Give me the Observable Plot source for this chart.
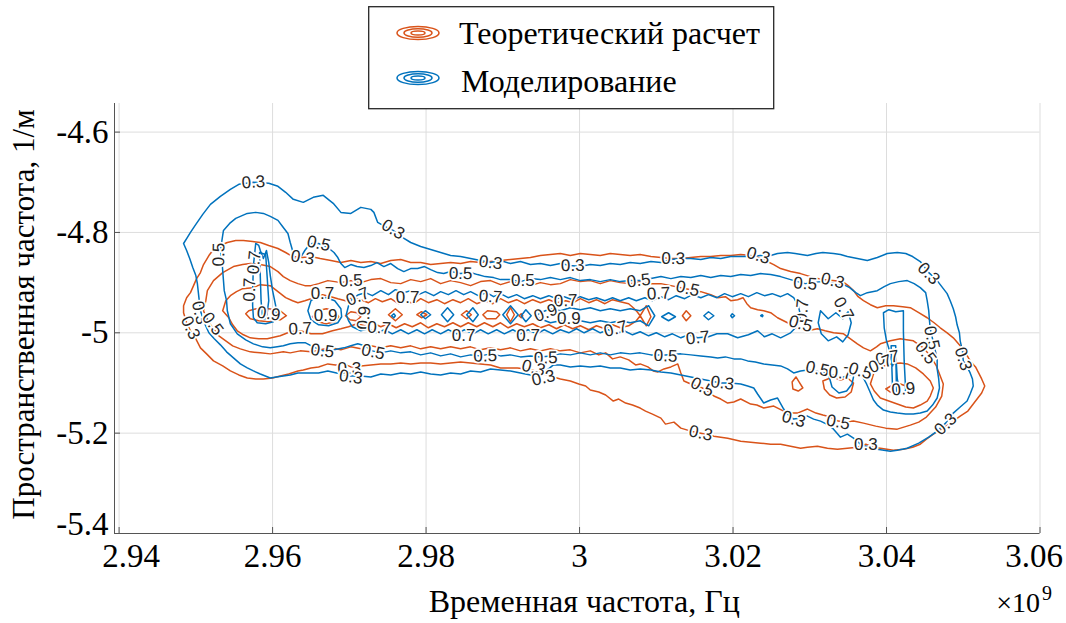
<!DOCTYPE html>
<html>
<head>
<meta charset="utf-8">
<script src="https://cdn.jsdelivr.net/npm/d3@7"></script>
<script src="https://cdn.jsdelivr.net/npm/@observablehq/plot@0.6"></script>
<style>
  html, body { margin: 0; padding: 0; background: #fff; }
  #wrap { position: relative; width: 1066px; height: 623px; overflow: hidden; }
  #legend { position: absolute; left: 368px; top: 6px; }
</style>
</head>
<body>
<div id="wrap">
  <div id="chart"></div>
  <svg id="legend" width="407" height="104" font-family="'Liberation Serif','Times New Roman',serif">
    <rect x="0.7" y="0.7" width="405" height="102" fill="#fff" stroke="#262626" stroke-width="1.3"></rect>
    <g fill="none" stroke="#D95319" stroke-width="1.5">
      <ellipse cx="50" cy="27" rx="21" ry="6.5"></ellipse>
      <ellipse cx="50" cy="27" rx="14" ry="4.2"></ellipse>
      <ellipse cx="50" cy="27" rx="7" ry="2"></ellipse>
    </g>
    <g fill="none" stroke="#0072BD" stroke-width="1.5">
      <ellipse cx="50" cy="72" rx="21" ry="6.5"></ellipse>
      <ellipse cx="50" cy="72" rx="14" ry="4.2"></ellipse>
      <ellipse cx="50" cy="72" rx="7" ry="2"></ellipse>
    </g>
    <text x="91" y="38" font-size="32" fill="#000">Теоретический расчет</text>
    <text x="93" y="86" font-size="32" fill="#000">Моделирование</text>
  </svg>
</div>
<script>
// Axes: temporal frequency (×10^9 Hz) and spatial frequency (1/m)
const xTicks = [2.94, 2.96, 2.98, 3.00, 3.02, 3.04, 3.06];
const yTicks = [-5.4, -5.2, -5.0, -4.8, -4.6];
const xDomain = [2.9394, 3.06];
const yDomain = [-5.4, -4.543];

// Theoretical calculation: contour at level 0.3 (closed)
const theory03 = [[2.9484,-4.960],[2.9484,-4.946],[2.9488,-4.930],[2.9493,-4.920],[2.9497,-4.906],[2.9501,-4.892],[2.9506,-4.880],[2.9510,-4.864],[2.9517,-4.846],[2.9523,-4.834],[2.9532,-4.826],[2.9541,-4.820],[2.9552,-4.816],[2.9562,-4.816],[2.9574,-4.818],[2.9584,-4.820],[2.9595,-4.826],[2.9607,-4.832],[2.9617,-4.840],[2.9626,-4.848],[2.9639,-4.850],[2.9650,-4.848],[2.9662,-4.852],[2.9676,-4.856],[2.9689,-4.860],[2.9702,-4.856],[2.9715,-4.860],[2.9728,-4.858],[2.9741,-4.862],[2.9754,-4.856],[2.9767,-4.854],[2.9780,-4.860],[2.9793,-4.860],[2.9806,-4.864],[2.9819,-4.862],[2.9832,-4.860],[2.9845,-4.862],[2.9858,-4.858],[2.9871,-4.860],[2.9884,-4.858],[2.9897,-4.856],[2.9910,-4.854],[2.9923,-4.852],[2.9936,-4.850],[2.9949,-4.846],[2.9962,-4.844],[2.9975,-4.842],[2.9988,-4.846],[3.0001,-4.842],[3.0014,-4.844],[3.0027,-4.846],[3.0040,-4.842],[3.0053,-4.844],[3.0066,-4.846],[3.0079,-4.844],[3.0093,-4.848],[3.0106,-4.850],[3.0119,-4.852],[3.0132,-4.852],[3.0145,-4.850],[3.0158,-4.848],[3.0171,-4.848],[3.0184,-4.846],[3.0197,-4.846],[3.0210,-4.844],[3.0223,-4.846],[3.0233,-4.850],[3.0242,-4.856],[3.0253,-4.864],[3.0262,-4.872],[3.0275,-4.878],[3.0288,-4.882],[3.0305,-4.890],[3.0317,-4.894],[3.0330,-4.896],[3.0343,-4.898],[3.0350,-4.906],[3.0357,-4.916],[3.0363,-4.928],[3.0370,-4.936],[3.0379,-4.944],[3.0388,-4.950],[3.0399,-4.946],[3.0409,-4.946],[3.0421,-4.948],[3.0431,-4.950],[3.0442,-4.960],[3.0453,-4.970],[3.0462,-4.980],[3.0470,-4.990],[3.0479,-5.000],[3.0487,-5.010],[3.0496,-5.026],[3.0503,-5.040],[3.0509,-5.056],[3.0516,-5.068],[3.0520,-5.080],[3.0524,-5.092],[3.0528,-5.106],[3.0524,-5.120],[3.0519,-5.130],[3.0512,-5.144],[3.0506,-5.156],[3.0496,-5.166],[3.0487,-5.176],[3.0474,-5.190],[3.0461,-5.202],[3.0452,-5.212],[3.0444,-5.222],[3.0434,-5.228],[3.0422,-5.232],[3.0409,-5.234],[3.0392,-5.230],[3.0382,-5.228],[3.0373,-5.222],[3.0362,-5.228],[3.0349,-5.230],[3.0336,-5.232],[3.0323,-5.230],[3.0310,-5.226],[3.0297,-5.228],[3.0288,-5.230],[3.0275,-5.226],[3.0262,-5.222],[3.0249,-5.222],[3.0236,-5.220],[3.0223,-5.218],[3.0210,-5.216],[3.0193,-5.210],[3.0175,-5.206],[3.0158,-5.200],[3.0145,-5.196],[3.0132,-5.190],[3.0123,-5.178],[3.0112,-5.182],[3.0106,-5.170],[3.0095,-5.162],[3.0086,-5.156],[3.0079,-5.150],[3.0069,-5.144],[3.0060,-5.140],[3.0051,-5.132],[3.0044,-5.136],[3.0034,-5.124],[3.0025,-5.118],[3.0014,-5.114],[3.0008,-5.106],[2.9999,-5.102],[2.9988,-5.096],[2.9975,-5.092],[2.9966,-5.088],[2.9953,-5.082],[2.9943,-5.076],[2.9930,-5.072],[2.9919,-5.070],[2.9907,-5.070],[2.9897,-5.070],[2.9884,-5.064],[2.9871,-5.062],[2.9858,-5.060],[2.9845,-5.058],[2.9832,-5.060],[2.9819,-5.062],[2.9806,-5.060],[2.9793,-5.060],[2.9780,-5.062],[2.9767,-5.060],[2.9754,-5.062],[2.9741,-5.062],[2.9728,-5.064],[2.9715,-5.066],[2.9702,-5.068],[2.9693,-5.062],[2.9682,-5.064],[2.9672,-5.062],[2.9660,-5.068],[2.9650,-5.070],[2.9640,-5.074],[2.9633,-5.076],[2.9621,-5.082],[2.9610,-5.086],[2.9600,-5.090],[2.9588,-5.092],[2.9578,-5.092],[2.9567,-5.090],[2.9556,-5.084],[2.9545,-5.076],[2.9535,-5.066],[2.9523,-5.056],[2.9514,-5.042],[2.9506,-5.030],[2.9500,-5.012],[2.9493,-4.996],[2.9488,-4.980]];

// Theoretical calculation: level 0.5 (closed)
const theory05 = [[2.9510,-4.956],[2.9513,-4.936],[2.9515,-4.916],[2.9523,-4.896],[2.9535,-4.880],[2.9549,-4.868],[2.9561,-4.864],[2.9571,-4.862],[2.9584,-4.864],[2.9597,-4.868],[2.9607,-4.878],[2.9614,-4.888],[2.9623,-4.896],[2.9633,-4.902],[2.9642,-4.906],[2.9650,-4.906],[2.9660,-4.902],[2.9672,-4.896],[2.9681,-4.898],[2.9689,-4.900],[2.9702,-4.896],[2.9715,-4.900],[2.9728,-4.894],[2.9741,-4.892],[2.9754,-4.900],[2.9767,-4.902],[2.9780,-4.894],[2.9793,-4.898],[2.9806,-4.892],[2.9819,-4.902],[2.9832,-4.896],[2.9845,-4.900],[2.9858,-4.906],[2.9871,-4.898],[2.9884,-4.896],[2.9897,-4.904],[2.9910,-4.898],[2.9923,-4.902],[2.9936,-4.906],[2.9949,-4.900],[2.9962,-4.904],[2.9975,-4.902],[2.9988,-4.894],[3.0001,-4.898],[3.0014,-4.896],[3.0027,-4.902],[3.0040,-4.896],[3.0053,-4.900],[3.0066,-4.902],[3.0079,-4.898],[3.0093,-4.902],[3.0106,-4.902],[3.0119,-4.906],[3.0132,-4.910],[3.0145,-4.914],[3.0158,-4.918],[3.0171,-4.924],[3.0180,-4.930],[3.0190,-4.928],[3.0197,-4.936],[3.0206,-4.934],[3.0213,-4.930],[3.0218,-4.942],[3.0223,-4.950],[3.0232,-4.954],[3.0240,-4.956],[3.0249,-4.960],[3.0258,-4.970],[3.0271,-4.980],[3.0284,-4.990],[3.0297,-4.996],[3.0310,-4.992],[3.0320,-4.996],[3.0331,-5.000],[3.0344,-5.002],[3.0353,-5.012],[3.0362,-5.022],[3.0370,-5.030],[3.0379,-5.036],[3.0387,-5.028],[3.0392,-5.022],[3.0405,-5.016],[3.0418,-5.012],[3.0426,-5.014],[3.0435,-5.016],[3.0448,-5.030],[3.0457,-5.046],[3.0465,-5.066],[3.0470,-5.086],[3.0474,-5.102],[3.0472,-5.126],[3.0464,-5.148],[3.0452,-5.168],[3.0442,-5.178],[3.0431,-5.184],[3.0414,-5.192],[3.0399,-5.190],[3.0386,-5.186],[3.0370,-5.180],[3.0357,-5.176],[3.0346,-5.178],[3.0337,-5.176],[3.0327,-5.168],[3.0317,-5.164],[3.0308,-5.160],[3.0297,-5.152],[3.0284,-5.160],[3.0275,-5.160],[3.0266,-5.156],[3.0253,-5.146],[3.0240,-5.150],[3.0231,-5.144],[3.0223,-5.142],[3.0210,-5.132],[3.0201,-5.138],[3.0193,-5.140],[3.0184,-5.132],[3.0175,-5.126],[3.0167,-5.116],[3.0160,-5.110],[3.0145,-5.102],[3.0136,-5.096],[3.0132,-5.080],[3.0128,-5.062],[3.0119,-5.068],[3.0110,-5.072],[3.0102,-5.078],[3.0096,-5.076],[3.0089,-5.068],[3.0079,-5.062],[3.0073,-5.064],[3.0064,-5.054],[3.0053,-5.048],[3.0043,-5.052],[3.0034,-5.040],[3.0025,-5.044],[3.0014,-5.036],[3.0001,-5.040],[2.9988,-5.034],[2.9975,-5.036],[2.9962,-5.032],[2.9949,-5.036],[2.9936,-5.032],[2.9923,-5.036],[2.9910,-5.030],[2.9897,-5.034],[2.9884,-5.030],[2.9871,-5.034],[2.9858,-5.028],[2.9845,-5.032],[2.9832,-5.028],[2.9819,-5.032],[2.9806,-5.028],[2.9793,-5.032],[2.9780,-5.026],[2.9767,-5.030],[2.9754,-5.026],[2.9741,-5.030],[2.9728,-5.026],[2.9715,-5.032],[2.9702,-5.028],[2.9689,-5.034],[2.9676,-5.030],[2.9662,-5.034],[2.9650,-5.038],[2.9636,-5.036],[2.9623,-5.040],[2.9614,-5.038],[2.9597,-5.042],[2.9584,-5.040],[2.9571,-5.038],[2.9558,-5.032],[2.9548,-5.026],[2.9539,-5.016],[2.9530,-5.006],[2.9522,-4.990],[2.9515,-4.976]];

// Theoretical calculation: level 0.7, main lobe and ridge (closed)
const theory07 = [[2.9535,-4.956],[2.9539,-4.936],[2.9545,-4.926],[2.9553,-4.918],[2.9561,-4.912],[2.9574,-4.910],[2.9584,-4.904],[2.9597,-4.906],[2.9607,-4.918],[2.9617,-4.930],[2.9626,-4.936],[2.9633,-4.940],[2.9642,-4.936],[2.9650,-4.932],[2.9657,-4.928],[2.9665,-4.924],[2.9676,-4.928],[2.9685,-4.932],[2.9695,-4.936],[2.9704,-4.930],[2.9715,-4.934],[2.9725,-4.940],[2.9734,-4.932],[2.9743,-4.938],[2.9754,-4.932],[2.9764,-4.942],[2.9773,-4.936],[2.9784,-4.942],[2.9793,-4.932],[2.9803,-4.940],[2.9814,-4.934],[2.9824,-4.942],[2.9835,-4.934],[2.9845,-4.940],[2.9855,-4.932],[2.9866,-4.942],[2.9876,-4.936],[2.9887,-4.942],[2.9897,-4.932],[2.9907,-4.940],[2.9918,-4.934],[2.9928,-4.942],[2.9939,-4.934],[2.9949,-4.940],[2.9960,-4.934],[2.9970,-4.940],[2.9982,-4.936],[2.9992,-4.940],[3.0001,-4.932],[3.0012,-4.940],[3.0022,-4.934],[3.0033,-4.942],[3.0043,-4.934],[3.0053,-4.938],[3.0064,-4.942],[3.0070,-4.950],[3.0075,-4.958],[3.0079,-4.966],[3.0087,-4.986],[3.0093,-4.968],[3.0087,-4.946],[3.0079,-4.966],[3.0074,-4.976],[3.0064,-4.986],[3.0053,-4.990],[3.0043,-4.984],[3.0033,-4.992],[3.0022,-4.986],[3.0012,-4.994],[3.0001,-4.986],[2.9991,-4.992],[2.9980,-4.984],[2.9970,-4.992],[2.9960,-4.984],[2.9949,-4.990],[2.9939,-4.982],[2.9928,-4.988],[2.9918,-4.982],[2.9907,-4.990],[2.9897,-4.980],[2.9887,-4.988],[2.9876,-4.980],[2.9866,-4.988],[2.9855,-4.980],[2.9845,-4.988],[2.9835,-4.980],[2.9824,-4.988],[2.9814,-4.982],[2.9803,-4.990],[2.9793,-4.980],[2.9782,-4.988],[2.9772,-4.982],[2.9761,-4.990],[2.9751,-4.982],[2.9741,-4.988],[2.9730,-4.980],[2.9720,-4.986],[2.9710,-4.982],[2.9699,-4.988],[2.9689,-4.992],[2.9678,-4.996],[2.9665,-5.002],[2.9650,-5.002],[2.9636,-4.996],[2.9623,-4.998],[2.9610,-5.006],[2.9593,-5.012],[2.9582,-5.012],[2.9571,-5.010],[2.9562,-5.004],[2.9554,-4.996],[2.9548,-4.984],[2.9543,-4.970]];

// Theoretical calculation: level 0.7, right lobe and two small islands (closed)
const theory07Right = [[3.0379,-5.102],[3.0383,-5.082],[3.0388,-5.072],[3.0396,-5.066],[3.0405,-5.062],[3.0418,-5.060],[3.0427,-5.062],[3.0438,-5.070],[3.0448,-5.082],[3.0457,-5.096],[3.0461,-5.110],[3.0457,-5.126],[3.0453,-5.136],[3.0444,-5.144],[3.0435,-5.150],[3.0425,-5.148],[3.0414,-5.142],[3.0403,-5.136],[3.0392,-5.130],[3.0384,-5.116]];
const theory07Island = [[3.0317,-5.096],[3.0319,-5.112],[3.0326,-5.124],[3.0335,-5.130],[3.0346,-5.128],[3.0354,-5.118],[3.0357,-5.100],[3.0349,-5.090],[3.0340,-5.094],[3.0330,-5.088]];
const theory07Dot = [[3.0277,-5.098],[3.0282,-5.088],[3.0286,-5.098],[3.0291,-5.110],[3.0285,-5.116],[3.0278,-5.112]];

// Theoretical calculation: level 0.9 closed rings along the ridge
const theory09 = [
  [[2.9565,-4.962],[2.9571,-4.972],[2.9582,-4.976],[2.9595,-4.978],[2.9610,-4.974],[2.9618,-4.966],[2.9610,-4.956],[2.9595,-4.952],[2.9579,-4.952],[2.9569,-4.956]],
  [[2.9652,-4.968],[2.9659,-4.956],[2.9670,-4.952],[2.9681,-4.956],[2.9686,-4.968],[2.9681,-4.978],[2.9670,-4.982],[2.9659,-4.978]],
  [[2.9695,-4.966],[2.9702,-4.958],[2.9710,-4.960],[2.9715,-4.968],[2.9709,-4.976],[2.9701,-4.974]],
  [[2.9751,-4.964],[2.9760,-4.952],[2.9769,-4.964],[2.9760,-4.976]],
  [[2.9788,-4.964],[2.9794,-4.958],[2.9801,-4.964],[2.9794,-4.970]],
  [[2.9846,-4.964],[2.9853,-4.956],[2.9859,-4.964],[2.9853,-4.972]],
  [[2.9874,-4.964],[2.9880,-4.956],[2.9892,-4.958],[2.9896,-4.964],[2.9891,-4.972],[2.9879,-4.972]],
  [[2.9905,-4.964],[2.9910,-4.950],[2.9915,-4.964],[2.9910,-4.978]],
  [[2.9921,-4.966],[2.9924,-4.962],[2.9926,-4.966],[2.9924,-4.970]],
  [[3.0134,-4.966],[3.0139,-4.956],[3.0145,-4.966],[3.0139,-4.976]],
  [[3.0399,-5.112],[3.0408,-5.104],[3.0418,-5.102],[3.0429,-5.108],[3.0433,-5.116],[3.0418,-5.120],[3.0405,-5.118]]
];

// Simulation: level 0.3 (closed)
const model03 = [[2.9484,-4.822],[2.9488,-4.836],[2.9492,-4.852],[2.9496,-4.870],[2.9500,-4.886],[2.9502,-4.902],[2.9504,-4.930],[2.9506,-4.956],[2.9511,-4.980],[2.9517,-5.000],[2.9524,-5.012],[2.9532,-5.024],[2.9540,-5.038],[2.9549,-5.050],[2.9558,-5.062],[2.9567,-5.070],[2.9575,-5.076],[2.9584,-5.082],[2.9597,-5.090],[2.9605,-5.088],[2.9614,-5.086],[2.9623,-5.084],[2.9633,-5.080],[2.9650,-5.080],[2.9660,-5.080],[2.9672,-5.076],[2.9689,-5.082],[2.9702,-5.086],[2.9715,-5.086],[2.9728,-5.088],[2.9741,-5.082],[2.9754,-5.084],[2.9767,-5.080],[2.9780,-5.082],[2.9793,-5.078],[2.9806,-5.082],[2.9819,-5.084],[2.9832,-5.080],[2.9845,-5.082],[2.9858,-5.076],[2.9871,-5.078],[2.9884,-5.072],[2.9897,-5.074],[2.9910,-5.076],[2.9923,-5.080],[2.9936,-5.084],[2.9949,-5.086],[2.9958,-5.074],[2.9966,-5.064],[2.9975,-5.064],[2.9988,-5.068],[3.0001,-5.066],[3.0014,-5.068],[3.0027,-5.066],[3.0040,-5.070],[3.0053,-5.070],[3.0066,-5.074],[3.0079,-5.072],[3.0093,-5.074],[3.0106,-5.078],[3.0119,-5.080],[3.0132,-5.084],[3.0145,-5.088],[3.0158,-5.092],[3.0171,-5.096],[3.0184,-5.100],[3.0197,-5.100],[3.0210,-5.102],[3.0219,-5.106],[3.0227,-5.110],[3.0232,-5.122],[3.0240,-5.140],[3.0249,-5.134],[3.0258,-5.130],[3.0266,-5.152],[3.0271,-5.162],[3.0279,-5.172],[3.0288,-5.170],[3.0297,-5.166],[3.0305,-5.172],[3.0314,-5.176],[3.0322,-5.182],[3.0331,-5.192],[3.0340,-5.208],[3.0349,-5.202],[3.0357,-5.210],[3.0366,-5.222],[3.0377,-5.228],[3.0388,-5.232],[3.0405,-5.236],[3.0414,-5.234],[3.0427,-5.230],[3.0442,-5.220],[3.0455,-5.208],[3.0466,-5.196],[3.0477,-5.180],[3.0487,-5.160],[3.0496,-5.148],[3.0505,-5.136],[3.0509,-5.122],[3.0513,-5.106],[3.0512,-5.092],[3.0509,-5.080],[3.0505,-5.068],[3.0500,-5.056],[3.0499,-5.036],[3.0496,-5.016],[3.0495,-5.000],[3.0492,-4.984],[3.0490,-4.968],[3.0487,-4.952],[3.0483,-4.936],[3.0479,-4.922],[3.0470,-4.904],[3.0464,-4.892],[3.0455,-4.880],[3.0444,-4.858],[3.0434,-4.848],[3.0425,-4.842],[3.0414,-4.840],[3.0401,-4.842],[3.0388,-4.850],[3.0375,-4.856],[3.0362,-4.852],[3.0349,-4.848],[3.0340,-4.844],[3.0331,-4.842],[3.0317,-4.840],[3.0308,-4.842],[3.0297,-4.846],[3.0281,-4.842],[3.0271,-4.840],[3.0258,-4.842],[3.0249,-4.846],[3.0236,-4.846],[3.0223,-4.848],[3.0210,-4.848],[3.0197,-4.848],[3.0184,-4.852],[3.0171,-4.850],[3.0158,-4.854],[3.0145,-4.852],[3.0132,-4.852],[3.0119,-4.854],[3.0106,-4.860],[3.0093,-4.858],[3.0079,-4.862],[3.0066,-4.860],[3.0053,-4.864],[3.0040,-4.862],[3.0027,-4.866],[3.0014,-4.864],[3.0001,-4.868],[2.9988,-4.866],[2.9975,-4.862],[2.9962,-4.866],[2.9949,-4.862],[2.9936,-4.864],[2.9923,-4.858],[2.9910,-4.862],[2.9897,-4.856],[2.9884,-4.860],[2.9871,-4.856],[2.9858,-4.852],[2.9845,-4.848],[2.9832,-4.846],[2.9819,-4.840],[2.9806,-4.834],[2.9793,-4.828],[2.9780,-4.820],[2.9767,-4.808],[2.9757,-4.796],[2.9746,-4.788],[2.9737,-4.780],[2.9732,-4.760],[2.9728,-4.754],[2.9715,-4.750],[2.9702,-4.762],[2.9689,-4.760],[2.9679,-4.742],[2.9666,-4.726],[2.9653,-4.730],[2.9640,-4.740],[2.9627,-4.734],[2.9617,-4.720],[2.9607,-4.708],[2.9595,-4.702],[2.9575,-4.700],[2.9556,-4.704],[2.9545,-4.714],[2.9532,-4.728],[2.9519,-4.744],[2.9509,-4.764],[2.9500,-4.784],[2.9493,-4.800],[2.9489,-4.810]];

// Simulation: level 0.5 (closed)
const model05 = [[2.9536,-4.796],[2.9544,-4.782],[2.9552,-4.772],[2.9558,-4.768],[2.9567,-4.762],[2.9578,-4.760],[2.9588,-4.762],[2.9597,-4.768],[2.9607,-4.776],[2.9613,-4.788],[2.9620,-4.802],[2.9623,-4.820],[2.9626,-4.836],[2.9630,-4.860],[2.9634,-4.854],[2.9638,-4.846],[2.9642,-4.836],[2.9646,-4.828],[2.9651,-4.822],[2.9660,-4.822],[2.9672,-4.830],[2.9680,-4.840],[2.9685,-4.850],[2.9689,-4.862],[2.9694,-4.870],[2.9702,-4.864],[2.9710,-4.868],[2.9719,-4.870],[2.9728,-4.866],[2.9736,-4.860],[2.9745,-4.868],[2.9754,-4.862],[2.9763,-4.872],[2.9771,-4.878],[2.9780,-4.872],[2.9789,-4.872],[2.9798,-4.868],[2.9806,-4.874],[2.9815,-4.880],[2.9823,-4.882],[2.9832,-4.878],[2.9845,-4.882],[2.9858,-4.880],[2.9867,-4.884],[2.9877,-4.888],[2.9888,-4.890],[2.9897,-4.894],[2.9910,-4.894],[2.9923,-4.898],[2.9936,-4.892],[2.9949,-4.894],[2.9962,-4.890],[2.9975,-4.894],[2.9988,-4.890],[3.0001,-4.896],[3.0014,-4.894],[3.0027,-4.898],[3.0040,-4.894],[3.0053,-4.898],[3.0066,-4.896],[3.0079,-4.896],[3.0093,-4.892],[3.0106,-4.888],[3.0119,-4.892],[3.0132,-4.888],[3.0145,-4.890],[3.0158,-4.886],[3.0171,-4.890],[3.0184,-4.886],[3.0197,-4.888],[3.0210,-4.884],[3.0223,-4.886],[3.0236,-4.882],[3.0249,-4.884],[3.0262,-4.888],[3.0275,-4.894],[3.0284,-4.898],[3.0294,-4.902],[3.0304,-4.900],[3.0314,-4.898],[3.0324,-4.900],[3.0333,-4.902],[3.0344,-4.904],[3.0352,-4.910],[3.0360,-4.920],[3.0366,-4.926],[3.0375,-4.920],[3.0388,-4.916],[3.0397,-4.908],[3.0405,-4.902],[3.0416,-4.898],[3.0427,-4.896],[3.0436,-4.902],[3.0444,-4.910],[3.0451,-4.920],[3.0453,-4.936],[3.0455,-4.956],[3.0456,-4.976],[3.0457,-4.992],[3.0460,-5.012],[3.0463,-5.032],[3.0466,-5.052],[3.0466,-5.072],[3.0468,-5.092],[3.0469,-5.110],[3.0466,-5.130],[3.0460,-5.144],[3.0453,-5.156],[3.0444,-5.160],[3.0435,-5.162],[3.0425,-5.162],[3.0414,-5.160],[3.0405,-5.158],[3.0396,-5.154],[3.0388,-5.144],[3.0383,-5.134],[3.0378,-5.116],[3.0374,-5.102],[3.0369,-5.088],[3.0364,-5.082],[3.0353,-5.084],[3.0344,-5.088],[3.0334,-5.086],[3.0325,-5.082],[3.0314,-5.078],[3.0305,-5.076],[3.0297,-5.074],[3.0288,-5.076],[3.0279,-5.080],[3.0271,-5.072],[3.0262,-5.066],[3.0251,-5.064],[3.0240,-5.062],[3.0229,-5.058],[3.0219,-5.056],[3.0210,-5.052],[3.0201,-5.052],[3.0190,-5.048],[3.0180,-5.050],[3.0171,-5.048],[3.0158,-5.046],[3.0145,-5.044],[3.0132,-5.042],[3.0112,-5.044],[3.0093,-5.044],[3.0079,-5.040],[3.0066,-5.042],[3.0053,-5.040],[3.0040,-5.044],[3.0027,-5.040],[3.0014,-5.044],[3.0001,-5.040],[2.9988,-5.044],[2.9975,-5.042],[2.9962,-5.046],[2.9949,-5.048],[2.9936,-5.046],[2.9923,-5.048],[2.9910,-5.044],[2.9897,-5.046],[2.9884,-5.042],[2.9871,-5.046],[2.9858,-5.044],[2.9845,-5.048],[2.9832,-5.042],[2.9819,-5.046],[2.9806,-5.040],[2.9793,-5.044],[2.9780,-5.038],[2.9767,-5.040],[2.9754,-5.036],[2.9741,-5.040],[2.9730,-5.036],[2.9720,-5.026],[2.9711,-5.022],[2.9702,-5.026],[2.9693,-5.030],[2.9680,-5.034],[2.9666,-5.036],[2.9653,-5.028],[2.9643,-5.020],[2.9633,-5.020],[2.9623,-5.022],[2.9614,-5.026],[2.9606,-5.028],[2.9597,-5.030],[2.9587,-5.028],[2.9575,-5.022],[2.9565,-5.014],[2.9554,-5.002],[2.9545,-4.982],[2.9541,-4.956],[2.9540,-4.936],[2.9537,-4.916],[2.9536,-4.896],[2.9535,-4.876],[2.9534,-4.856],[2.9532,-4.836],[2.9534,-4.816]];

// Simulation: level 0.7 pieces (closed unless noted)
const model07Left = [[2.9578,-4.822],[2.9575,-4.866],[2.9574,-4.916],[2.9574,-4.946],[2.9575,-4.970],[2.9580,-4.980],[2.9591,-4.982],[2.9601,-4.978],[2.9605,-4.970],[2.9604,-4.946],[2.9600,-4.916],[2.9597,-4.886],[2.9595,-4.860],[2.9592,-4.836],[2.9588,-4.852],[2.9584,-4.836],[2.9582,-4.826]];
const model07Ring = [[2.9646,-4.956],[2.9650,-4.936],[2.9659,-4.928],[2.9670,-4.930],[2.9681,-4.936],[2.9689,-4.952],[2.9690,-4.968],[2.9685,-4.980],[2.9673,-4.986],[2.9660,-4.984],[2.9650,-4.974]];
const model07Ridge = [[2.9696,-4.964],[2.9699,-4.946],[2.9704,-4.932],[2.9712,-4.924],[2.9721,-4.920],[2.9730,-4.926],[2.9741,-4.916],[2.9751,-4.924],[2.9760,-4.914],[2.9771,-4.920],[2.9780,-4.916],[2.9790,-4.924],[2.9799,-4.918],[2.9810,-4.926],[2.9819,-4.918],[2.9829,-4.924],[2.9839,-4.916],[2.9849,-4.924],[2.9858,-4.918],[2.9868,-4.926],[2.9879,-4.920],[2.9888,-4.928],[2.9897,-4.922],[2.9907,-4.930],[2.9918,-4.924],[2.9928,-4.932],[2.9939,-4.926],[2.9949,-4.932],[2.9960,-4.926],[2.9970,-4.932],[2.9980,-4.928],[2.9991,-4.934],[3.0001,-4.928],[3.0012,-4.934],[3.0022,-4.930],[3.0033,-4.936],[3.0043,-4.930],[3.0053,-4.936],[3.0064,-4.930],[3.0074,-4.936],[3.0085,-4.930],[3.0095,-4.936],[3.0106,-4.928],[3.0116,-4.934],[3.0126,-4.926],[3.0137,-4.932],[3.0147,-4.924],[3.0158,-4.930],[3.0168,-4.924],[3.0179,-4.930],[3.0189,-4.922],[3.0199,-4.928],[3.0210,-4.922],[3.0220,-4.928],[3.0231,-4.920],[3.0241,-4.926],[3.0251,-4.922],[3.0262,-4.928],[3.0271,-4.922],[3.0279,-4.930],[3.0285,-4.946],[3.0288,-4.966],[3.0284,-4.986],[3.0275,-5.000],[3.0262,-5.010],[3.0251,-5.002],[3.0241,-5.008],[3.0232,-4.996],[3.0220,-5.004],[3.0206,-5.010],[3.0193,-5.002],[3.0179,-5.002],[3.0168,-5.008],[3.0154,-5.010],[3.0142,-5.004],[3.0132,-5.010],[3.0121,-5.002],[3.0111,-5.008],[3.0100,-5.000],[3.0090,-5.006],[3.0079,-4.998],[3.0069,-5.004],[3.0058,-4.996],[3.0048,-5.002],[3.0038,-4.994],[3.0027,-5.000],[3.0017,-4.992],[3.0006,-5.000],[2.9996,-4.992],[2.9986,-5.000],[2.9975,-4.994],[2.9965,-5.002],[2.9954,-4.994],[2.9944,-5.002],[2.9933,-4.994],[2.9923,-5.002],[2.9913,-4.994],[2.9902,-5.002],[2.9892,-4.994],[2.9881,-5.002],[2.9871,-4.994],[2.9861,-5.002],[2.9850,-4.994],[2.9840,-5.002],[2.9829,-4.994],[2.9819,-5.002],[2.9808,-4.994],[2.9798,-5.002],[2.9788,-4.994],[2.9777,-5.002],[2.9767,-4.994],[2.9756,-5.002],[2.9746,-4.994],[2.9735,-5.000],[2.9725,-4.992],[2.9715,-4.996],[2.9704,-4.988],[2.9699,-4.976]];
const model07Patch = [[3.0314,-4.956],[3.0311,-4.980],[3.0315,-5.002],[3.0324,-5.016],[3.0335,-5.008],[3.0343,-5.018],[3.0350,-5.004],[3.0354,-4.980],[3.0350,-4.958],[3.0343,-4.972],[3.0334,-4.960],[3.0324,-4.972]];
const model07Hook = [[3.0325,-5.086],[3.0329,-5.108],[3.0338,-5.120],[3.0348,-5.116],[3.0355,-5.102],[3.0357,-5.088]]; // open
const model07Right = [[3.0396,-4.960],[3.0403,-4.954],[3.0412,-4.958],[3.0422,-4.956],[3.0422,-4.996],[3.0423,-5.056],[3.0425,-5.116],[3.0418,-5.122],[3.0414,-5.092],[3.0412,-5.040],[3.0408,-5.066],[3.0404,-5.036],[3.0400,-5.016],[3.0397,-4.990]];

// Simulation: level 0.9 rings and spikes (closed)
const model09 = [
  [[2.9583,-4.840],[2.9585,-4.936],[2.9587,-4.972],[2.9592,-4.972],[2.9595,-4.936],[2.9591,-4.844]],
  [[2.9755,-4.966],[2.9758,-4.962],[2.9760,-4.966],[2.9758,-4.970]],
  [[2.9793,-4.964],[2.9799,-4.956],[2.9806,-4.964],[2.9799,-4.972]],
  [[2.9820,-4.964],[2.9828,-4.950],[2.9836,-4.964],[2.9828,-4.978]],
  [[2.9853,-4.964],[2.9861,-4.950],[2.9868,-4.964],[2.9861,-4.978]],
  [[2.9900,-4.964],[2.9910,-4.946],[2.9920,-4.964],[2.9910,-4.982]],
  [[2.9924,-4.966],[2.9930,-4.954],[2.9937,-4.966],[2.9930,-4.978]],
  [[2.9949,-4.960],[2.9962,-4.952],[2.9975,-4.956],[2.9988,-4.950],[3.0001,-4.954],[3.0014,-4.950],[3.0027,-4.956],[3.0040,-4.952],[3.0053,-4.956],[3.0066,-4.952],[3.0079,-4.956],[3.0090,-4.946],[3.0098,-4.966],[3.0090,-4.986],[3.0079,-4.976],[3.0066,-4.980],[3.0053,-4.976],[3.0040,-4.980],[3.0027,-4.976],[3.0014,-4.980],[3.0001,-4.976],[2.9988,-4.980],[2.9975,-4.976],[2.9962,-4.980],[2.9949,-4.972],[2.9944,-4.966]],
  [[3.0107,-4.968],[3.0116,-4.960],[3.0125,-4.968],[3.0116,-4.976]],
  [[3.0162,-4.966],[3.0168,-4.958],[3.0175,-4.966],[3.0168,-4.974]],
  [[3.0197,-4.966],[3.0199,-4.962],[3.0202,-4.966],[3.0199,-4.970]],
  [[3.0236,-4.966],[3.0238,-4.964],[3.0239,-4.966],[3.0238,-4.968]],
  [[3.0406,-5.026],[3.0408,-5.116],[3.0413,-5.120],[3.0412,-5.026]]
];

// Contour labels: [level, x, y]
const contourLabels = [
  [0.3,2.9575,-4.700],[0.3,2.9757,-4.794],[0.5,2.9530,-4.844],[0.3,2.9639,-4.850],[0.5,2.9660,-4.822],
  [0.7,2.9576,-4.860],[0.7,2.9570,-4.914],[0.9,2.9595,-4.962],[0.3,2.9505,-4.960],[0.5,2.9522,-4.982],
  [0.3,2.9493,-4.990],[0.5,2.9702,-4.896],[0.7,2.9665,-4.922],[0.9,2.9669,-4.966],[0.7,2.9711,-4.928],
  [0.9,2.9719,-4.970],[0.7,2.9636,-4.992],[0.7,2.9739,-4.990],[0.5,2.9665,-5.036],[0.5,2.9731,-5.038],
  [0.3,2.9700,-5.072],[0.3,2.9702,-5.088],[0.3,2.9884,-4.860],[0.3,2.9991,-4.866],[0.3,3.0122,-4.852],
  [0.3,3.0233,-4.846],[0.5,2.9845,-4.882],[0.5,2.9926,-4.896],[0.5,3.0077,-4.896],[0.5,3.0141,-4.912],
  [0.7,2.9776,-4.930],[0.7,2.9884,-4.928],[0.7,2.9982,-4.936],[0.7,3.0103,-4.922],[0.9,2.9956,-4.960],
  [0.9,2.9986,-4.972],[0.7,2.9849,-5.006],[0.7,2.9933,-5.006],[0.7,3.0047,-4.992],[0.7,3.0154,-5.010],
  [0.5,2.9877,-5.046],[0.5,2.9956,-5.050],[0.5,3.0112,-5.046],[0.3,2.9940,-5.070],[0.3,2.9953,-5.090],
  [0.5,3.0160,-5.108],[0.3,3.0186,-5.100],[0.3,3.0158,-5.200],[0.3,3.0279,-5.172],[0.5,3.0337,-5.178],
  [0.3,3.0373,-5.222],[0.3,3.0477,-5.182],[0.3,3.0455,-4.882],[0.3,3.0500,-5.052],[0.5,3.0459,-5.010],
  [0.5,3.0451,-5.040],[0.3,3.0330,-4.896],[0.5,3.0294,-4.902],[0.7,3.0290,-4.956],[0.5,3.0288,-4.982],
  [0.7,3.0344,-4.952],[0.5,3.0310,-5.072],[0.7,3.0340,-5.080],[0.5,3.0366,-5.076],[0.7,3.0401,-5.050],
  [0.7,3.0392,-5.062],[0.9,3.0422,-5.112]
];

const seriesNames = ["Теоретический расчет", "Моделирование"];
const seriesColors = ["#D95319", "#0072BD"];

// Assemble contour paths
const contours = [
  {series: seriesNames[0], level: 0.3, points: theory03, closed: true},
  {series: seriesNames[0], level: 0.5, points: theory05, closed: true},
  {series: seriesNames[0], level: 0.7, points: theory07, closed: true},
  {series: seriesNames[0], level: 0.7, points: theory07Right, closed: true},
  {series: seriesNames[0], level: 0.7, points: theory07Island, closed: true},
  {series: seriesNames[0], level: 0.7, points: theory07Dot, closed: true},
  ...theory09.map(p => ({series: seriesNames[0], level: 0.9, points: p, closed: true})),
  {series: seriesNames[1], level: 0.3, points: model03, closed: true},
  {series: seriesNames[1], level: 0.5, points: model05, closed: true},
  {series: seriesNames[1], level: 0.7, points: model07Left, closed: true},
  {series: seriesNames[1], level: 0.7, points: model07Ring, closed: true},
  {series: seriesNames[1], level: 0.7, points: model07Ridge, closed: true},
  {series: seriesNames[1], level: 0.7, points: model07Patch, closed: true},
  {series: seriesNames[1], level: 0.7, points: model07Hook, closed: false},
  {series: seriesNames[1], level: 0.7, points: model07Right, closed: true},
  ...model09.map(p => ({series: seriesNames[1], level: 0.9, points: p, closed: true}))
];

const lineRows = contours.flatMap((c, id) => {
  const pts = c.closed ? [...c.points, c.points[0]] : c.points;
  return pts.map(([x, y]) => ({x, y, id, series: c.series}));
});

const width = 1066, height = 623;
const marginLeft = 114, marginRight = 26.5, marginTop = 103, marginBottom = 90;
const kx = (width - marginLeft - marginRight) / (xDomain[1] - xDomain[0]);
const ky = (height - marginTop - marginBottom) / (yDomain[1] - yDomain[0]);

// Orient each label along the contour of the same level that passes under it
function labelAngle(level, x, y) {
  let best = null, bd = Infinity;
  for (const c of contours) {
    if (c.level !== level) continue;
    c.points.forEach(([px, py], i) => {
      const d = ((px - x) * kx) ** 2 + ((py - y) * ky) ** 2;
      if (d < bd) { bd = d; best = {c, i}; }
    });
  }
  const {c, i} = best;
  const n = c.points.length;
  const at = j => c.closed ? c.points[((j % n) + n) % n] : c.points[Math.max(0, Math.min(n - 1, j))];
  const a = at(i - 2), b = at(i + 2);
  const dx = (b[0] - a[0]) * kx, dy = -(b[1] - a[1]) * ky;
  if (dx === 0 && dy === 0) return 0;
  let ang = Math.atan2(dy, dx) * 180 / Math.PI;
  if (ang > 90) ang -= 180;
  if (ang <= -90) ang += 180;
  return ang;
}

const labelRows = contourLabels.map(([level, x, y]) => ({
  x, y, text: String(level), angle: labelAngle(level, x, y)
}));

const tickLenY = (yDomain[1] - yDomain[0]) * 6 / (height - marginTop - marginBottom);
const tickLenX = (xDomain[1] - xDomain[0]) * 6 / (width - marginLeft - marginRight);
const serif = "'Liberation Serif','Times New Roman',serif";
const fmt = d => String(d);

const chart = Plot.plot({
  width, height, marginLeft, marginRight, marginTop, marginBottom,
  style: {fontFamily: serif, fontSize: "32px", color: "#000", background: "transparent"},
  x: {domain: xDomain},
  y: {domain: yDomain},
  color: {domain: seriesNames, range: seriesColors},
  marks: [
    Plot.gridX(xTicks, {stroke: "#dddddd", strokeOpacity: 1, strokeWidth: 1}),
    Plot.gridY(yTicks, {stroke: "#dddddd", strokeOpacity: 1, strokeWidth: 1}),
    Plot.line(lineRows, {x: "x", y: "y", z: "id", stroke: "series", strokeWidth: 1.5, strokeLinejoin: "round", curve: "linear"}),
    Plot.text(labelRows, {
      x: "x", y: "y", text: "text", rotate: "angle",
      fontFamily: "'Liberation Sans',Arial,sans-serif", fontSize: 17,
      fill: "#262626", stroke: "#fff", strokeWidth: 3.5
    }),
    Plot.ruleX([xDomain[0]], {stroke: "#555", strokeWidth: 1}),
    Plot.ruleY([yDomain[0]], {stroke: "#555", strokeWidth: 1}),
    Plot.ruleX(xTicks, {y1: yDomain[0], y2: yDomain[0] + tickLenY, stroke: "#555", strokeWidth: 1}),
    Plot.ruleY(yTicks, {x1: xDomain[0], x2: xDomain[0] + tickLenX, stroke: "#555", strokeWidth: 1}),
    // tick labels; the end ones are nudged clear of the corner and the page edge
    Plot.axisX(xTicks.slice(1, -1), {tickSize: 0, tickPadding: 10, tickFormat: fmt, label: null, fontSize: 33}),
    Plot.axisX(xTicks.slice(0, 1), {tickSize: 0, tickPadding: 10, tickFormat: fmt, label: null, fontSize: 33, dx: 12}),
    Plot.axisX(xTicks.slice(-1), {tickSize: 0, tickPadding: 10, tickFormat: fmt, label: null, fontSize: 33, dx: -6}),
    Plot.axisY(yTicks.slice(1), {tickSize: 0, tickPadding: 6, tickFormat: fmt, label: null, fontSize: 33}),
    Plot.axisY(yTicks.slice(0, 1), {tickSize: 0, tickPadding: 6, tickFormat: fmt, label: null, fontSize: 33, dy: -9}),
    Plot.text(["Временная частота, Гц"], {frameAnchor: "bottom", dx: 7, dy: 78, text: d => d, fontSize: 32}),
    Plot.text(["Пространственная частота, 1/м"], {frameAnchor: "left", textAnchor: "middle", dx: -90, dy: -4, rotate: -90, text: d => d, fontSize: 31}),
    Plot.text(["×10"], {frameAnchor: "bottom-right", dy: 78, textAnchor: "end", text: d => d, fontSize: 28}),
    Plot.text(["9"], {frameAnchor: "bottom-right", dx: 2, dy: 66, textAnchor: "start", text: d => d, fontSize: 20})
  ]
});

document.getElementById("chart").appendChild(chart);
</script>
</body>
</html>
